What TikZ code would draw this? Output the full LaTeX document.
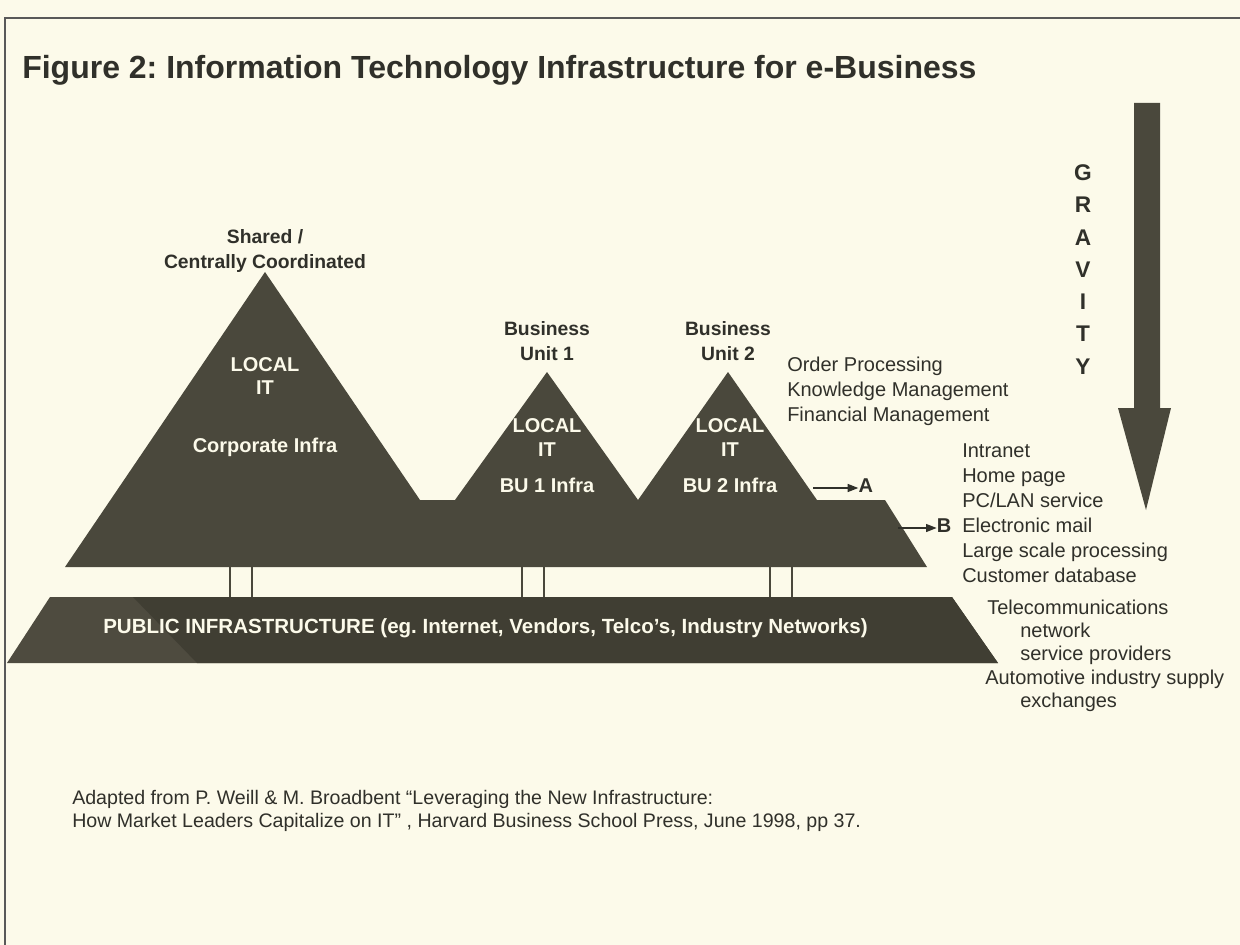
\documentclass[tikz,border=0pt]{standalone}
\usepackage{fontspec}
\setmainfont{Liberation Sans}
\usepackage{xcolor}
\usetikzlibrary{arrows.meta, positioning}
\definecolor{paper}{RGB}{252,250,234}
\definecolor{rock}{RGB}{74,72,60}
\definecolor{rockside}{RGB}{78,75,63}
\definecolor{rockdark}{RGB}{64,62,51}
\definecolor{ink}{RGB}{48,48,42}
\tikzset{
	title/.style={font=\fontsize{24}{28}\selectfont\bfseries, text=ink, anchor=west, inner sep=0pt},
	peak/.style={font=\fontsize{14.5}{18.75}\selectfont\bfseries, text=ink, align=center, inner sep=0pt},
	inlabel/.style={font=\fontsize{15}{18}\selectfont\bfseries, text=paper, inner sep=0pt, text height=1.5ex, text depth=.25ex},
	item/.style={font=\fontsize{15}{18}\selectfont, text=ink, anchor=west, inner sep=0pt, text height=1.5ex, text depth=.25ex},
	letter/.style={font=\fontsize{15}{18}\selectfont\bfseries, text=ink, inner sep=0pt, text height=1.5ex, text depth=.25ex},
	gravletter/.style={letter, font=\fontsize{17}{20}\selectfont\bfseries},
	source/.style={font=\fontsize{14.7}{17}\selectfont, text=ink, anchor=west, inner sep=0pt, text height=1.5ex, text depth=.25ex},
	link/.style={draw=rock, line width=1pt},
	line/.style={draw=ink, line width=1pt, -{Triangle[length=8pt, width=6pt]}},
	frame/.style={draw=gray!70!black, line width=0.8pt}
}

\begin{document}
\frenchspacing
\begin{tikzpicture}[x=0.75pt, y=-0.75pt]
    \useasboundingbox (0,0) rectangle (1240,945);
    \fill[paper] (0,0) rectangle (1240,945);
    \draw[frame] (5,945) -- (5,18) -- (1240,18);
    % Title
    \node[title] (title) at (22,70) {Figure 2: Information Technology Infrastructure for e-Business};
    % Mountains
    \fill[rock] (65,567) -- (265,272) -- (420,500) -- (455,500) -- (547,372) -- (638,500)
        -- (728,372) -- (817,500) -- (885,500) -- (927,567) -- cycle;
    % Public infrastructure
    \fill[rockside] (7,663) -- (50,597) -- (952,597) -- (998,663) -- cycle;
    \fill[rockdark] (133,597) -- (952,597) -- (998,663) -- (197,663) -- cycle;
    \foreach \x in {230,252,522,544,770,792}
        \draw[link] (\x,567) -- (\x,597);
    % Gravity arrow
    \fill[rock] (1134,103) -- (1160,103) -- (1160,408) -- (1171,408) -- (1146,510)
        -- (1118,408) -- (1134,408) -- cycle;
    \foreach \l [count=\i] in {G,R,A,V,I,T,Y}
        \node[gravletter] (grav\i) at (1083,176+32.3*\i-32.3) {\l};
    % Nodes
    \node[peak] (corp) at (265,251) {Shared /\\Centrally Coordinated};
    \node[peak] (bu1) at (547,341) {Business\\Unit 1};
    \node[peak] (bu2) at (728,341) {Business\\Unit 2};
    \node[inlabel] (corplocal) at (265,367) {LOCAL};
    \node[inlabel] (corpit) at (265,390) {IT};
    \node[inlabel] (corpinfra) at (265,448) {Corporate Infra};
    \node[inlabel] (bu1local) at (547,428) {LOCAL};
    \node[inlabel] (bu1it) at (547,452) {IT};
    \node[inlabel] (bu1infra) at (547,488) {BU 1 Infra};
    \node[inlabel] (bu2local) at (730,428) {LOCAL};
    \node[inlabel] (bu2it) at (730,452) {IT};
    \node[inlabel] (bu2infra) at (730,488) {BU 2 Infra};
    \node[inlabel, anchor=west, font=\fontsize{15.4}{18}\selectfont\bfseries] (public) at (103,629)
        {PUBLIC INFRASTRUCTURE (eg. Internet, Vendors, Telco's, Industry Networks)};
    % Lists
    \foreach \t [count=\i] in {Order Processing, Knowledge Management, Financial Management}
        \node[item] (app\i) at (787,367+25*\i-25) {\t};
    \foreach \t [count=\i] in {Intranet, Home page, PC/LAN service, Electronic mail,
        Large scale processing, Customer database}
        \node[item] (lan\i) at (962,453+25*\i-25) {\t};
    \node[item] (tel1) at (987,610) {Telecommunications};
    \node[item] (tel2) at (1020,633) {network};
    \node[item] (tel3) at (1020,656) {service providers};
    \node[item] (tel4) at (985,680) {Automotive industry supply};
    \node[item] (tel5) at (1020,703) {exchanges};
    % Arrows
    \coordinate (startA) at (813,488);
    \coordinate (startB) at (898,528);
    \node[letter, right=34pt of startA, anchor=west] (A) {A};
    \node[letter, right=29pt of startB, anchor=west] (B) {B};
    \draw[line] (startA) -- (A);
    \draw[line] (startB) -- (B);
    % Source
    \node[source] (src1) at (72,800) {Adapted from P. Weill \& M. Broadbent “Leveraging the New Infrastructure:};
    \node[source] (src2) at (72,823) {How Market Leaders Capitalize on IT” , Harvard Business School Press, June 1998, pp 37.};
\end{tikzpicture}
\end{document}
